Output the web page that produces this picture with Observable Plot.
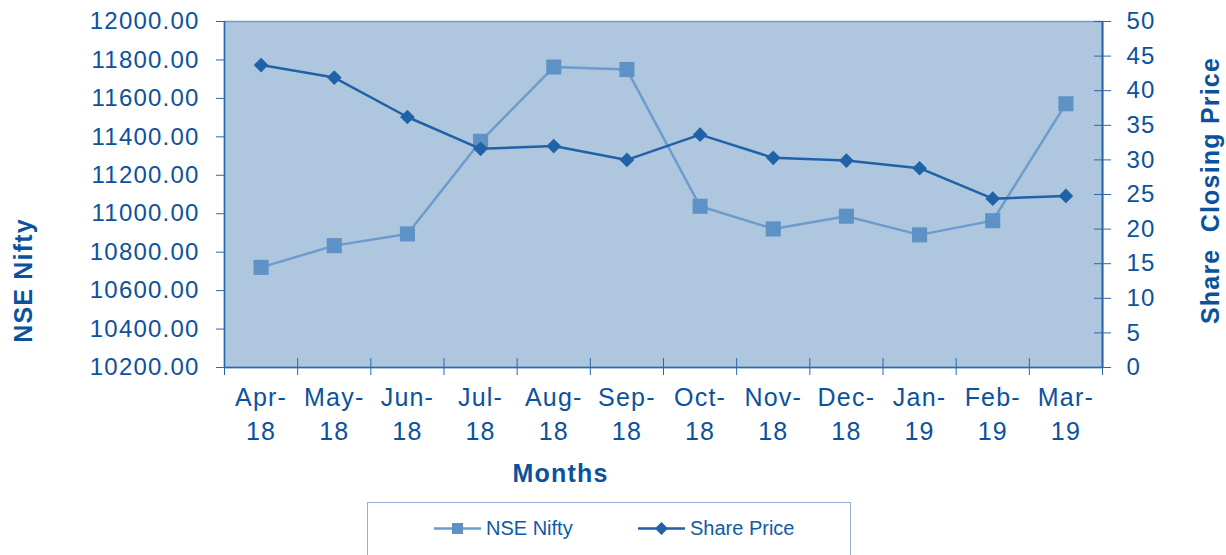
<!DOCTYPE html>
<html>
<head>
<meta charset="utf-8">
<script src="https://cdn.jsdelivr.net/npm/d3@7"></script>
<script src="https://cdn.jsdelivr.net/npm/@observablehq/plot@0.6"></script>
<style>
  html, body { margin: 0; padding: 0; background: #fff; }
  #wrap { position: relative; width: 1226px; height: 555px; overflow: hidden; font-family: "Liberation Sans", Arial, sans-serif; }
  #legend { position: absolute; left: 367px; top: 502px; width: 484px; height: 70px; border: 1px solid #8fb1d7; box-sizing: border-box; }
  .li { position: absolute; top: 14px; display: flex; align-items: center; font-size: 20px; color: #0f5aa6; }
  .li svg { margin-right: 4px; }
</style>
</head>
<body>
<div id="wrap"><div id="legend"></div></div>
<script>
const months = ["Apr-\n18","May-\n18","Jun-\n18","Jul-\n18","Aug-\n18","Sep-\n18","Oct-\n18","Nov-\n18","Dec-\n18","Jan-\n19","Feb-\n19","Mar-\n19"];
const niftyValues = [10721, 10834, 10895, 11377, 11763, 11750, 11039, 10921, 10987, 10890, 10964, 11572];
const shareValues = [43.7, 41.9, 36.2, 31.6, 32.0, 30.0, 33.65, 30.3, 29.9, 28.8, 24.4, 24.8];
const leftTicks = [10200, 10400, 10600, 10800, 11000, 11200, 11400, 11600, 11800, 12000];
const rightTicks = [0, 5, 10, 15, 20, 25, 30, 35, 40, 45, 50];

const leftMin = 10200, leftMax = 12000, rightMax = 50;
const toLeft = v => leftMin + v * (leftMax - leftMin) / rightMax;
const fromLeft = d => Math.round((d - leftMin) * rightMax / (leftMax - leftMin));

const data = months.map((m, i) => ({pos: i + 0.5, month: m, nifty: niftyValues[i], share: toLeft(shareValues[i])}));
const mids = months.map((m, i) => i + 0.5);
const bounds = d3.range(months.length + 1);

const textColor = "#0b529e";
const axisColor = "#2a68ab";
const bg = "#afc6df";
const niftyLine = "#6c9ccd";
const niftyMark = "#5e92c6";
const shareColor = "#1f62a8";
const font = "Liberation Sans, Arial, sans-serif";

const chart = Plot.plot({
  width: 1226,
  height: 502,
  marginLeft: 224,
  marginRight: 124,
  marginTop: 21,
  marginBottom: 135,
  style: {fontFamily: font, color: textColor, background: "transparent", letterSpacing: "1.2px"},
  x: {type: "linear", domain: [0, months.length], label: null},
  y: {domain: [leftMin, leftMax], label: null},
  marks: [
    Plot.frame({fill: bg, stroke: "#6f9dd0", strokeWidth: 1.5}),
    Plot.ruleX([0], {stroke: axisColor, strokeWidth: 1.5}),
    Plot.ruleX([months.length], {stroke: axisColor, strokeWidth: 2}),
    Plot.ruleY([leftMin], {stroke: axisColor, strokeWidth: 1.5}),
    Plot.axisY({ticks: leftTicks, tickFormat: d => d.toFixed(2), tickSize: 8, tickPadding: 17, fontSize: 24, color: textColor, stroke: axisColor, label: null}),
    Plot.axisY({anchor: "right", ticks: rightTicks.map(toLeft), tickSize: 17, dx: -9, tickFormat: () => "", stroke: axisColor, label: null}),
    Plot.axisY({anchor: "right", ticks: rightTicks.map(toLeft), tickSize: 0, tickPadding: 24, tickFormat: fromLeft, fontSize: 24, fill: textColor, label: null}),
    Plot.axisX({ticks: bounds, tickSize: 17, dy: -9, tickFormat: () => "", stroke: axisColor, label: null}),
    Plot.axisX({ticks: mids, tickSize: 0, tickPadding: 15, tickFormat: d => months[Math.floor(d)], fontSize: 25, lineHeight: 1.34, fill: textColor, label: null}),
    Plot.line(data, {x: "pos", y: "nifty", stroke: niftyLine, strokeWidth: 2.5}),
    Plot.dot(data, {x: "pos", y: "nifty", symbol: "square", r: 8.5, fill: niftyMark, stroke: "none"}),
    Plot.line(data, {x: "pos", y: "share", stroke: shareColor, strokeWidth: 2.5}),
    Plot.dot(data, {x: "pos", y: "share", symbol: "diamond2", r: 6.6, fill: shareColor, stroke: "none"}),
    Plot.text(["NSE Nifty"], {frameAnchor: "left", textAnchor: "middle", rotate: -90, dx: -201, dy: 86, fontSize: 25, fontWeight: "bold", fill: textColor, ariaLabel: "nse-title"}),
    Plot.text(["Share  Closing Price"], {frameAnchor: "right", textAnchor: "middle", rotate: -90, dx: 108, dy: -4, fontSize: 25, fontWeight: "bold", fill: textColor, ariaLabel: "share-title"}),
    Plot.text(["Months"], {frameAnchor: "bottom", dx: -103, dy: 114, fontSize: 25, fontWeight: "bold", fill: textColor, ariaLabel: "months-title"})
  ]
});
d3.select(chart).select('g[aria-label="nse-title"]').style("letter-spacing", "2.5px");
d3.select(chart).select('g[aria-label="share-title"]').style("letter-spacing", "1.4px");
d3.select(chart).select('g[aria-label="months-title"]').style("letter-spacing", "1.6px");
document.getElementById("wrap").prepend(chart);

const legendItems = [
  {label: "NSE Nifty", color: niftyLine, markColor: niftyMark, symbol: "square", left: 66},
  {label: "Share Price", color: shareColor, markColor: shareColor, symbol: "diamond", left: 270}
];
const legend = document.getElementById("legend");
for (const it of legendItems) {
  const div = document.createElement("div");
  div.className = "li";
  div.style.left = it.left + "px";
  const mark = it.symbol === "square"
    ? `<rect x="18" y="6" width="11" height="11" fill="${it.markColor}"/>`
    : `<path d="M23.5,5L30,11.5L23.5,18L17,11.5Z" fill="${it.markColor}"/>`;
  div.innerHTML = `<svg width="48" height="23"><line x1="0" x2="47" y1="11.5" y2="11.5" stroke="${it.color}" stroke-width="2.5"/>${mark}</svg><span>${it.label}</span>`;
  legend.appendChild(div);
}
</script>
</body>
</html>
